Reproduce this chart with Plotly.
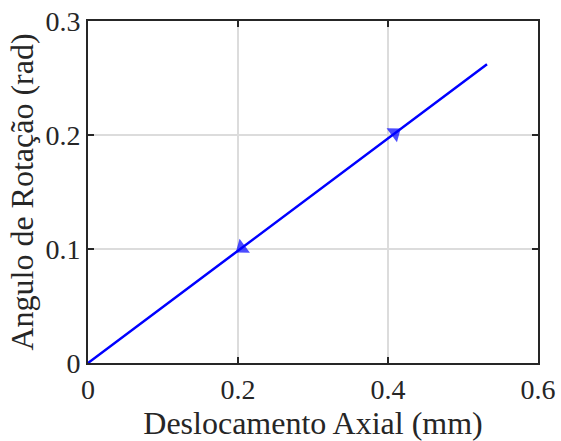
import math
import plotly.graph_objects as go

# Loading / unloading path: axial displacement (mm) vs rotation angle (rad)
path_x = [0.0, 0.409, 0.532, 0.205, 0.0]
path_y = [0.0, 0.2018, 0.262, 0.1009, 0.0]
# direction arrows on the 2nd (loading) and 4th (unloading) points
arrow_size = [0, 15, 0, 15, 0]

x_ticks = [0, 0.2, 0.4, 0.6]
x_labels = ["0", "0.2", "0.4", "0.6"]
y_ticks = [0, 0.1, 0.2, 0.3]
y_labels = ["0", "0.1", "0.2", "0.3"]

W, H = 561, 441
margin = dict(l=88, r=23, t=21, b=78)
x_range = [0, 0.6]
y_range = [0, 0.3]

font_family = "Liberation Serif, Times New Roman, serif"
axis_color = "#262626"

# orient each arrow along the direction of travel (screen space)
plot_w = W - margin["l"] - margin["r"]
plot_h = H - margin["t"] - margin["b"]
sx = plot_w / (x_range[1] - x_range[0])
sy = plot_h / (y_range[1] - y_range[0])
arrow_angle = [0.0]
for i in range(1, len(path_x)):
    dx = (path_x[i] - path_x[i - 1]) * sx
    dy = (path_y[i] - path_y[i - 1]) * sy
    arrow_angle.append(90.0 - math.degrees(math.atan2(dy, dx)))

fig = go.Figure()
fig.add_trace(go.Scatter(
    x=path_x, y=path_y,
    mode="lines+markers",
    line=dict(color="#0000FF", width=2.5),
    marker=dict(symbol="triangle-up", size=arrow_size, color="#0000FF",
                angle=arrow_angle, line=dict(width=0)),
    showlegend=False,
    hoverinfo="skip",
))

axis_common = dict(
    showline=True, linecolor=axis_color, linewidth=2, mirror="ticks",
    ticks="inside", ticklen=6, tickwidth=1.5, tickcolor=axis_color,
    showgrid=True, gridcolor="#DCDCDC", gridwidth=1.5,
    zeroline=False, automargin=False,
    tickfont=dict(family=font_family, size=28, color="#262626"),
)

fig.update_xaxes(
    range=x_range, tickvals=x_ticks, ticktext=x_labels,
    title=dict(text="Deslocamento Axial (mm)", standoff=4,
               font=dict(family=font_family, size=32, color="#262626")),
    **axis_common,
)
fig.update_yaxes(
    range=y_range, tickvals=y_ticks, ticktext=y_labels,
    title=dict(text="Angulo de Rotação (rad)", standoff=2,
               font=dict(family=font_family, size=32, color="#262626")),
    **axis_common,
)

fig.update_layout(
    width=W, height=H,
    margin=margin,
    paper_bgcolor="white", plot_bgcolor="white",
)

fig.write_html("out.html")
